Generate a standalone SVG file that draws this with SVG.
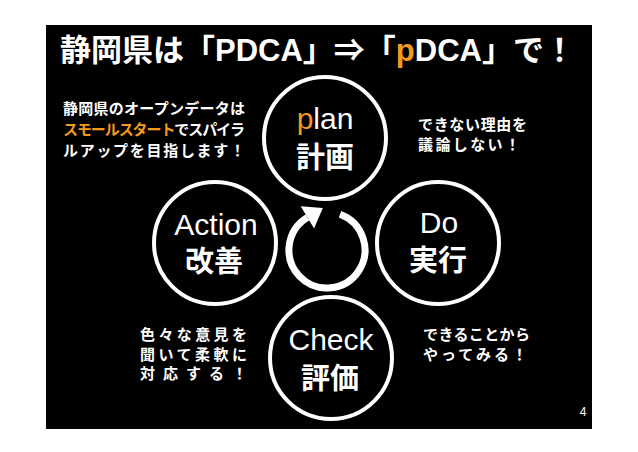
<svg xmlns="http://www.w3.org/2000/svg" width="638" height="452" viewBox="0 0 638 452">
<style>
.ring{fill:#000;stroke:#fff;stroke-width:4}
.en{font-family:"Liberation Sans",Arial,sans-serif;font-size:30px;fill:#fff;text-anchor:middle}
.ja{font-family:"Noto Sans CJK JP",sans-serif;font-weight:bold;font-size:29px;fill:#fff;text-anchor:middle}
.note{font-family:"Noto Sans CJK JP",sans-serif;font-weight:bold;font-size:15px;fill:#fff}
.title{font-family:"Liberation Sans","Noto Sans CJK JP",sans-serif;font-weight:bold;font-size:31px;fill:#fff}
.or{fill:#f39a1e}
</style>
<rect width="638" height="452" fill="#fff"/>
<rect x="46" y="25" width="546" height="404" fill="#000"/>
<text class="title" x="60" y="61">静岡県は「PDCA」⇒「<tspan class="or">p</tspan>DCA」で！</text>
<g id="note-left">
<text class="note" x="63" y="114" textLength="182" lengthAdjust="spacing">静岡県のオープンデータは</text>
<text class="note" x="63" y="135" textLength="182" lengthAdjust="spacing"><tspan class="or">スモールスタート</tspan>でスパイラ</text>
<text class="note" x="63" y="156" textLength="182" lengthAdjust="spacing">ルアップを目指します！</text>
</g>
<g id="note-right">
<text class="note" x="418" y="130" textLength="109" lengthAdjust="spacing">できない理由を</text>
<text class="note" x="418" y="150" textLength="102" lengthAdjust="spacing">議論しない！</text>
</g>
<g id="note-lower-left">
<text class="note" x="140" y="340" textLength="107" lengthAdjust="spacing">色々な意見を</text>
<text class="note" x="140" y="360" textLength="107" lengthAdjust="spacing">聞いて柔軟に</text>
<text class="note" x="140" y="379" textLength="107" lengthAdjust="spacing">対応する！</text>
</g>
<g id="note-lower-right">
<text class="note" x="423" y="340" textLength="107" lengthAdjust="spacing">できることから</text>
<text class="note" x="423" y="360" textLength="104" lengthAdjust="spacing">やってみる！</text>
</g>
<g id="connectors">
<path d="M340,214.3 A38,38 0 1 1 307.4,217.4" fill="none" stroke="#fff" stroke-width="7"/>
<polygon points="300.7,206.3 314.1,228.5 322.8,208.1" fill="#fff"/>
</g>
<g id="plan">
<circle class="ring" cx="325" cy="138" r="61"/>
<text class="en" x="325" y="129"><tspan class="or">p</tspan>lan</text>
<text class="ja" x="325" y="168">計画</text>
</g>
<g id="action">
<circle class="ring" cx="215" cy="243" r="61"/>
<text class="en" x="216" y="235">Action</text>
<text class="ja" x="214" y="272">改善</text>
</g>
<g id="do">
<circle class="ring" cx="438" cy="243" r="61"/>
<text class="en" x="439" y="233">Do</text>
<text class="ja" x="438" y="271">実行</text>
</g>
<g id="check">
<circle class="ring" cx="331" cy="358" r="61"/>
<text class="en" x="331" y="350">Check</text>
<text class="ja" x="330" y="389">評価</text>
</g>
<text x="583" y="416" font-family="Liberation Sans,Arial,sans-serif" font-size="12" fill="#fff" text-anchor="middle">4</text>
</svg>
